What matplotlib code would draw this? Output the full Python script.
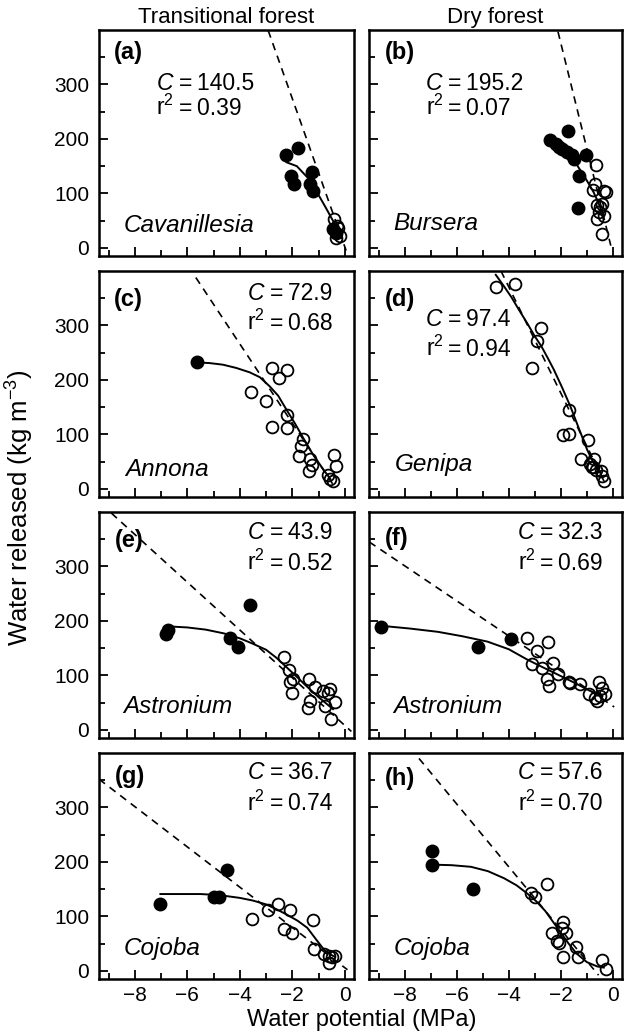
import matplotlib
matplotlib.use('Agg')
import matplotlib.pyplot as plt
from matplotlib.ticker import FixedLocator, MultipleLocator

plt.rcParams['font.family'] = ['Liberation Sans', 'DejaVu Sans']
plt.rcParams['mathtext.fontset'] = 'custom'
plt.rcParams['mathtext.rm'] = 'Liberation Sans'
plt.rcParams['mathtext.it'] = 'Liberation Sans:italic'

# column titles and panel info
col_titles = ['Transitional forest', 'Dry forest']
panel_labels = ['(a)', '(b)', '(c)', '(d)', '(e)', '(f)', '(g)', '(h)']
species = ['Cavanillesia', 'Bursera', 'Annona', 'Genipa',
           'Astronium', 'Astronium', 'Cojoba', 'Cojoba']
cap_values = ['140.5', '195.2', '72.9', '97.4', '43.9', '32.3', '36.7', '57.6']
r2_values = ['0.39', '0.07', '0.68', '0.94', '0.52', '0.69', '0.74', '0.70']

y_major = [0, 100, 200, 300]
y_minor = [50, 150, 250, 350]

# (a) Cavanillesia, transitional forest
a_fill_x = [-2.26, -1.77, -2.05, -1.94, -1.26, -1.32, -1.22, -0.45, -0.35]
a_fill_y = [171, 184, 132, 117, 139, 118, 105, 35, 28]
a_open_x = [-0.40, -0.25, -0.20, -0.35, -0.30]
a_open_y = [53, 37, 22, 18, 40]
a_fit_x = [-2.22, -1.83, -1.38, -1.06, -0.74, -0.42, -0.23]
a_fit_y = [157, 150, 127, 102, 75, 47, 29]
a_dash_x = [-2.92, 0.05]
a_dash_y = [399, -5]

# (b) Bursera, dry forest
b_fill_x = [-2.42, -2.20, -2.08, -1.95, -1.72, -1.76, -1.57, -1.50, -1.02, -1.31, -1.34]
b_fill_y = [198, 191, 186, 182, 214, 176, 170, 163, 171, 132, 73]
b_open_x = [-0.64, -0.68, -0.76, -0.33, -0.27, -0.61, -0.42, -0.55, -0.48, -0.33, -0.61, -0.42]
b_open_y = [152, 117, 106, 105, 102, 78, 81, 65, 75, 59, 53, 26]
b_fit_x = [-1.63, -1.38, -1.12, -0.92, -0.74, -0.55, -0.36]
b_fit_y = [170, 152, 133, 117, 102, 82, 59]
b_dash_x = [-2.11, -0.08]
b_dash_y = [397, 4]

# (c) Annona, transitional forest
c_fill_x = [-5.65]
c_fill_y = [232]
c_open_x = [-2.76, -2.50, -2.19, -3.56, -3.01, -2.19, -2.76, -2.19, -1.58, -1.68,
            -1.73, -1.32, -1.26, -1.36, -0.42, -0.32, -0.55, -0.46, -0.65]
c_open_y = [222, 203, 219, 178, 162, 136, 114, 111, 92, 79,
            60, 54, 43, 33, 62, 42, 18, 15, 25]
c_fit_x = [-5.65, -5.17, -4.65, -4.14, -3.63, -3.24, -2.86, -2.54, -2.22, -1.90,
           -1.58, -1.20, -0.81, -0.55]
c_fit_y = [232, 231, 228, 222, 214, 205, 188, 171, 145, 120,
           93, 62, 35, 18]
c_dash_x = [-5.68, -0.45]
c_dash_y = [388, 8]

# (d) Genipa, dry forest
d_fill_x = []
d_fill_y = []
d_open_x = [-4.50, -3.76, -2.78, -2.90, -3.10, -1.69, -1.91, -1.69, -0.96, -1.21,
            -0.74, -0.87, -0.76, -0.64, -0.46, -0.42, -0.36, -0.80]
d_open_y = [371, 376, 295, 271, 221, 144, 98, 101, 89, 54,
            54, 45, 40, 35, 32, 24, 15, 40]
d_fit_x = [-4.50, -4.20, -3.90, -3.60, -3.29, -3.00, -2.75, -2.50, -2.27, -1.95,
           -1.63, -1.30, -0.99, -0.75, -0.48]
d_fit_y = [393, 373, 352, 328, 304, 280, 262, 240, 219, 186,
           151, 110, 72, 48, 29]
d_dash_x = [-4.3, -0.3]
d_dash_y = [400, 10]

# (e) Astronium, transitional forest
e_fill_x = [-6.74, -6.81, -4.37, -4.08, -3.63]
e_fill_y = [184, 176, 168, 153, 230]
e_open_x = [-2.31, -2.12, -1.96, -2.09, -2.03, -1.38, -1.13, -0.65, -0.58, -0.36,
            -1.32, -1.42, -0.74, -0.53, -0.85]
e_open_y = [134, 110, 93, 87, 68, 93, 78, 68, 75, 52,
            53, 41, 44, 20, 72]
e_fit_x = [-6.74, -6.0, -5.3, -4.6, -4.0, -3.5, -3.0, -2.6, -2.2, -1.8,
           -1.5, -1.0, -0.45]
e_fit_y = [190, 188, 184, 177, 168, 158, 147, 132, 114, 96,
           82, 60, 38]
e_dash_x = [-8.9, 0.25]
e_dash_y = [398, -3]

# (f) Astronium, dry forest
f_fill_x = [-8.89, -5.17, -3.92]
f_fill_y = [188, 152, 167]
f_open_x = [-3.31, -2.48, -2.90, -3.10, -2.71, -2.31, -2.11, -2.52, -1.69, -1.25,
            -0.55, -2.46, -1.63, -0.93, -0.68, -0.42, -0.48, -0.61, -0.30]
f_open_y = [168, 161, 144, 120, 114, 123, 102, 93, 88, 84,
            87, 80, 86, 65, 59, 77, 62, 53, 66]
f_fit_x = [-8.89, -7.8, -6.73, -5.8, -4.82, -4.0, -3.29, -2.7, -2.27, -1.8,
           -1.5, -0.9, -0.4]
f_fit_y = [191, 186, 180, 172, 162, 148, 129, 115, 105, 94,
           87, 72, 62]
f_dash_x = [-9.36, 0.05]
f_dash_y = [345, 42]

# (g) Cojoba, transitional forest
g_fill_x = [-7.03, -4.97, -4.78, -4.49]
g_fill_y = [122, 136, 136, 185]
g_open_x = [-3.53, -2.92, -2.53, -2.10, -2.33, -2.01, -1.23, -1.17, -0.78, -0.59,
            -0.50, -0.59, -0.39]
g_open_y = [95, 112, 123, 112, 76, 69, 93, 40, 30, 28,
            25, 15, 27]
g_fit_x = [-7.03, -6.0, -5.5, -4.78, -4.01, -3.5, -3.0, -2.6, -2.2, -1.8,
           -1.43, -1.1, -0.78, -0.55, -0.39]
g_fit_y = [141, 141, 141, 139, 134, 129, 122, 113, 103, 92,
           79, 58, 38, 30, 26]
g_dash_x = [-9.37, 0.1]
g_dash_y = [352, 2]

# (h) Cojoba, dry forest
h_fill_x = [-6.96, -6.96, -5.36]
h_fill_y = [220, 195, 151]
h_open_x = [-2.55, -3.15, -3.00, -1.92, -2.34, -1.82, -2.16, -2.08, -1.40, -1.33,
            -1.92, -0.42, -0.25, -1.95]
h_open_y = [159, 143, 136, 90, 69, 69, 55, 52, 44, 25,
            26, 20, 3, 78]
h_fit_x = [-6.96, -6.2, -5.45, -4.8, -4.18, -3.7, -3.29, -2.95, -2.6, -2.3,
           -2.0, -1.7, -1.4, -1.0, -0.6, -0.35]
h_fit_y = [195, 194, 191, 183, 170, 157, 142, 128, 110, 90,
           70, 50, 32, 16, 8, 6]
h_dash_x = [-7.45, -0.55]
h_dash_y = [390, -8]

fills = [(a_fill_x, a_fill_y), (b_fill_x, b_fill_y), (c_fill_x, c_fill_y), (d_fill_x, d_fill_y),
         (e_fill_x, e_fill_y), (f_fill_x, f_fill_y), (g_fill_x, g_fill_y), (h_fill_x, h_fill_y)]
opens = [(a_open_x, a_open_y), (b_open_x, b_open_y), (c_open_x, c_open_y), (d_open_x, d_open_y),
         (e_open_x, e_open_y), (f_open_x, f_open_y), (g_open_x, g_open_y), (h_open_x, h_open_y)]
fits = [(a_fit_x, a_fit_y), (b_fit_x, b_fit_y), (c_fit_x, c_fit_y), (d_fit_x, d_fit_y),
        (e_fit_x, e_fit_y), (f_fit_x, f_fit_y), (g_fit_x, g_fit_y), (h_fit_x, h_fit_y)]
dashes = [(a_dash_x, a_dash_y), (b_dash_x, b_dash_y), (c_dash_x, c_dash_y), (d_dash_x, d_dash_y),
          (e_dash_x, e_dash_y), (f_dash_x, f_dash_y), (g_dash_x, g_dash_y), (h_dash_x, h_dash_y)]

# text placement in axes fractions: '=' x, C baseline, r2 baseline
stat_pos = [(0.312, 0.735, 0.624), (0.313, 0.735, 0.624),
            (0.669, 0.872, 0.739), (0.313, 0.757, 0.624),
            (0.669, 0.879, 0.742), (0.677, 0.879, 0.742),
            (0.669, 0.886, 0.746), (0.677, 0.886, 0.746)]
label_pos = [(0.059, 0.90), (0.063, 0.90), (0.059, 0.875), (0.063, 0.875),
             (0.062, 0.875), (0.063, 0.882), (0.062, 0.894), (0.063, 0.886)]
species_pos = [(0.095, 0.108), (0.097, 0.115), (0.102, 0.095), (0.10, 0.115),
               (0.095, 0.109), (0.097, 0.109), (0.098, 0.108), (0.099, 0.108)]

W, H = 624, 1035
row_tops = [30, 271, 512, 753]
panel_h = 226
col_left = [99, 369]
col_w = [255, 253]

fig = plt.figure(figsize=(W / 100, H / 100), dpi=100)

for i in range(8):
    r, c = divmod(i, 2)
    rect = [col_left[c] / W, 1 - (row_tops[r] + panel_h) / H, col_w[c] / W, panel_h / H]
    ax = fig.add_axes(rect)

    ax.plot(dashes[i][0], dashes[i][1], color='k', ls=(0, (4.5, 3.5)), lw=1.2)
    ax.plot(fits[i][0], fits[i][1], color='k', ls='-', lw=1.4)
    if fills[i][0]:
        ax.plot(fills[i][0], fills[i][1], 'o', mfc='k', mec='k', ms=9)
    ax.plot(opens[i][0], opens[i][1], 'o', mfc='none', mec='k', mew=1.3, ms=8.5)

    ax.set_xlim(-9.37, 0.35)
    ax.set_ylim(-15, 400)
    ax.xaxis.set_major_locator(MultipleLocator(2))
    ax.xaxis.set_minor_locator(MultipleLocator(1))
    ax.yaxis.set_major_locator(FixedLocator(y_major))
    ax.yaxis.set_minor_locator(FixedLocator(y_minor))
    ax.tick_params(which='both', direction='in', width=1.3, labelsize=15, color='k')
    ax.tick_params(which='major', length=6.5)
    ax.tick_params(which='minor', length=4.5)
    ax.tick_params(axis='y', which='major', pad=7)
    ax.tick_params(axis='x', which='major', pad=5)
    for s in ax.spines.values():
        s.set_linewidth(1.8)
    if c == 1:
        ax.set_yticklabels([])
    if r < 3:
        ax.set_xticklabels([])

    ax.text(label_pos[i][0], label_pos[i][1], panel_labels[i], transform=ax.transAxes,
            fontsize=17, fontweight='bold', ha='left', va='center')
    xe, yc, yr = stat_pos[i]
    ax.text(xe - 0.022, yc, 'C', transform=ax.transAxes, fontsize=16.5,
            style='italic', ha='right', va='baseline')
    ax.text(xe, yc, '=\u2009' + cap_values[i], transform=ax.transAxes, fontsize=16.5,
            ha='left', va='baseline')
    ax.text(xe - 0.018, yr, 'r$^{2}$', transform=ax.transAxes, fontsize=16.5,
            ha='right', va='baseline')
    ax.text(xe, yr, '=\u2009' + r2_values[i], transform=ax.transAxes, fontsize=16.5,
            ha='left', va='baseline')
    ax.text(species_pos[i][0], species_pos[i][1], species[i], transform=ax.transAxes,
            fontsize=17.5, style='italic', ha='left', va='baseline')

    if r == 0:
        ax.text(0.5, 1 + 7 / panel_h, col_titles[c], transform=ax.transAxes,
                fontsize=16, ha='center', va='baseline')

fig.text(362 / W, 1 - 1020 / H, 'Water potential (MPa)', fontsize=17,
         ha='center', va='center')
fig.text(20 / W, 1 - 508 / H, 'Water released (kg m$^{-3}$)', fontsize=18.5,
         rotation=90, ha='center', va='center')

fig.savefig('out.png', dpi=100)
